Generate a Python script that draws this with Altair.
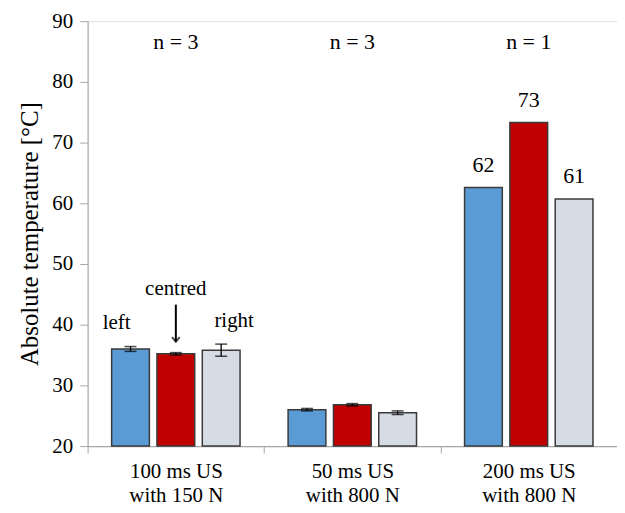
import altair as alt
import pandas as pd

groups = ["100 ms US|with 150 N", "50 ms US|with 800 N", "200 ms US|with 800 N"]
positions = ["left", "centred", "right"]
values = [[36.0, 35.2, 35.8], [26.0, 26.8, 25.5], [62.6, 73.3, 60.7]]
errors = [[0.4, 0.2, 1.0], [0.2, 0.2, 0.3], [0.0, 0.0, 0.0]]
value_labels = [["", "", ""], ["", "", ""], ["62", "73", "61"]]
n_labels = ["n = 3", "n = 3", "n = 1"]
colors = ["#5B9BD5", "#C00000", "#D5DCE6"]

pos_labels = ["left", "centred", "right"]
pos_label_y = [40.3, 45.9, 40.6]
pos_label_dx = [-14, 0, 13]

rows = []
for gi, g in enumerate(groups):
    for pi, p in enumerate(positions):
        v = values[gi][pi]
        e = errors[gi][pi]
        rows.append({"group": g, "pos": p, "value": v, "lo": v - e, "hi": v + e,
                     "err": e, "vlabel": value_labels[gi][pi]})
df = pd.DataFrame(rows)

FONT = "Liberation Serif"

x = alt.X("group:N", sort=groups, title=None,
          scale=alt.Scale(paddingInner=0, paddingOuter=0),
          axis=alt.Axis(labelExpr="split(datum.label, '|')", labelFont=FONT, labelFontSize=21,
                        labelColor="#000", labelAngle=0, labelPadding=8, labelLineHeight=24,
                        labelBaseline="top",
                        domainColor="#A6A6A6", tickColor="#A6A6A6", tickBand="extent",
                        tickSize=7, domainWidth=1.2))
xo = alt.XOffset("pos:N", sort=positions,
                 scale=alt.Scale(domain=positions, paddingInner=0.167, paddingOuter=0.53))
y = alt.Y("value:Q", title="Absolute temperature [°C]",
          scale=alt.Scale(domain=[20, 90], nice=False, zero=False),
          axis=alt.Axis(values=list(range(20, 91, 10)), grid=False, labelFont=FONT,
                        labelFontSize=21, labelColor="#000", titleFont=FONT, titleFontSize=25,
                        titleFontWeight="normal", titleColor="#000", titlePadding=9,
                        domainColor="#A6A6A6", tickColor="#A6A6A6", tickSize=8, labelPadding=7))

base = alt.Chart(df)

bars = base.mark_bar(stroke="#3A3A3A", strokeWidth=1.5).encode(
    x=x, xOffset=xo, y=y, y2=alt.datum(20),
    color=alt.Color("pos:N", scale=alt.Scale(domain=positions, range=colors), legend=None),
)

err_df = df[df["err"] > 0]
err_base = alt.Chart(err_df)
err_rule = err_base.mark_rule(color="#000", strokeWidth=1.3).encode(
    x=alt.X("group:N", sort=groups), xOffset=xo,
    y=alt.Y("lo:Q"), y2="hi:Q")
cap_lo = err_base.mark_tick(color="#000", thickness=1.5, size=12, orient="horizontal").encode(
    x=alt.X("group:N", sort=groups), xOffset=xo, y=alt.Y("lo:Q"))
cap_hi = err_base.mark_tick(color="#000", thickness=1.5, size=12, orient="horizontal").encode(
    x=alt.X("group:N", sort=groups), xOffset=xo, y=alt.Y("hi:Q"))

vtext = base.mark_text(font=FONT, fontSize=22, color="#000", dy=-23, baseline="middle").encode(
    x=alt.X("group:N", sort=groups), xOffset=xo, y=alt.Y("value:Q"), text="vlabel:N")

n_df = pd.DataFrame({"group": groups, "n": n_labels, "y": [86.5] * 3})
ntext = alt.Chart(n_df).mark_text(font=FONT, fontSize=22, color="#000", baseline="middle").encode(
    x=alt.X("group:N", sort=groups), y=alt.Y("y:Q"), text="n:N")

ann_layers = []
for lab, yy, dx in zip(pos_labels, pos_label_y, pos_label_dx):
    adf = pd.DataFrame({"group": [groups[0]], "pos": [lab], "y": [yy], "t": [lab]})
    ann_layers.append(alt.Chart(adf).mark_text(font=FONT, fontSize=21, color="#000",
                                                baseline="middle", dx=dx).encode(
        x=alt.X("group:N", sort=groups), xOffset=xo, y=alt.Y("y:Q"), text="t:N"))

arrow_df = pd.DataFrame({"group": [groups[0]], "pos": ["centred"], "top": [43.3], "bot": [37.2]})
arrow_line = alt.Chart(arrow_df).mark_rule(color="#000", strokeWidth=2).encode(
    x=alt.X("group:N", sort=groups), xOffset=xo, y=alt.Y("top:Q"), y2="bot:Q")
arrow_head = alt.Chart(arrow_df).mark_point(shape="M-1,-1.2L0,0L1,-1.2", filled=False,
                                            stroke="#000", strokeWidth=2, size=60).encode(
    x=alt.X("group:N", sort=groups), xOffset=xo, y=alt.Y("bot:Q"))

chart = alt.layer(bars, err_rule, cap_lo, cap_hi, vtext, ntext, *ann_layers, arrow_line, arrow_head).properties(
    width=532, height=427,
    autosize=alt.AutoSizeParams(type="none"),
    padding={"left": 80, "top": 12, "right": 0, "bottom": 66},
).configure_view(stroke=None).configure(background="white")

chart.save("out.html", embed_options={"renderer": "svg", "actions": False})
